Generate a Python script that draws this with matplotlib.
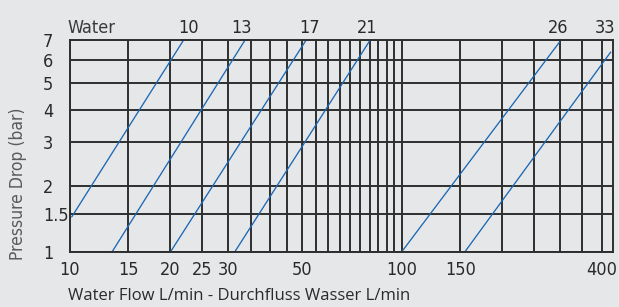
import matplotlib
matplotlib.use("Agg")
import matplotlib.pyplot as plt
import matplotlib.transforms as mtransforms
from matplotlib.ticker import NullLocator, FixedLocator, FixedFormatter

# values: each curve is a straight run
# from its lowest to its highest point
line_names = ["10", "13", "17", "21", "26", "33"]
flow_start = [10.1, 13.4, 20.1, 31.4, 100, 155]
flow_end = [22.0, 33.7, 51.5, 80.3, 299, 427]
press_start = [1.45, 1, 1, 1, 1, 1]
press_end = [7, 7, 7, 7, 6.9, 6.4]
label_flow = [22.7, 32.9, 52.9, 78.5, 295, 411]

x_grid = [10, 15, 20, 25, 30, 35, 40, 45, 50, 55, 60, 65, 70, 75, 80, 85, 90, 95,
          100, 150, 200, 250, 300, 350, 400]
x_labeled = [10, 15, 20, 25, 30, 50, 100, 150, 400]
y_grid = [1, 1.5, 2, 3, 4, 5, 6, 7]
y_labels = ["1", "1.5", "2", "3", "4", "5", "6", "7"]

bg = "#e6e7e9"
blue = "#1c68b4"
gridc = "#2e2e2e"
narrow = dict(family="DejaVu Sans", stretch="condensed")

fig = plt.figure(figsize=(6.19, 3.07), dpi=100, facecolor=bg)
ax = fig.add_axes([70 / 619, 1 - 251.7 / 307, 543 / 619, 211.7 / 307])
ax.set_facecolor(bg)

ax.set_xscale("log")
ax.set_yscale("function", functions=(lambda v: v ** 0.2, lambda v: v ** 5))
ax.set_xlim(10, 433)
ax.set_ylim(1, 7)

ax.xaxis.set_major_locator(FixedLocator(x_grid))
ax.xaxis.set_major_formatter(FixedFormatter([str(v) if v in x_labeled else "" for v in x_grid]))
ax.xaxis.set_minor_locator(NullLocator())
ax.yaxis.set_major_locator(FixedLocator(y_grid))
ax.yaxis.set_major_formatter(FixedFormatter(y_labels))
ax.yaxis.set_minor_locator(NullLocator())

ax.grid(True, color=gridc, linewidth=1.4)
ax.set_axisbelow(True)
for s in ax.spines.values():
    s.set_color(gridc)
    s.set_linewidth(1.4)

ax.tick_params(axis="x", length=0, pad=7, labelsize=13, labelcolor="#2a2a2a")
ax.tick_params(axis="y", length=0, pad=19.5, labelsize=13, labelcolor="#2a2a2a")
for lab in ax.get_xticklabels() + ax.get_yticklabels():
    lab.set_family(narrow["family"])
    lab.set_stretch(narrow["stretch"])
for lab in ax.get_yticklabels():
    lab.set_horizontalalignment("left")

trans = mtransforms.blended_transform_factory(ax.transData, ax.transAxes)
for i, name in enumerate(line_names):
    ax.plot([flow_start[i], flow_end[i]], [press_start[i], press_end[i]],
            color=blue, linewidth=0.95, solid_capstyle="butt")
    ax.text(label_flow[i], 1.033, name, transform=trans, ha="center", va="baseline",
            fontsize=13, color="#2a2a2a", **narrow)

ax.text(-0.0055, 1.033, "Water", transform=ax.transAxes, ha="left", va="baseline",
        fontsize=13, color="#3a3a3a", **narrow)

fig.text(18 / 619, 1 - 183.5 / 307, "Pressure Drop (bar)", rotation=90,
         ha="center", va="center", fontsize=12.5, color="#5a5a5a", **narrow)
fig.text(68 / 619, 1 - 296 / 307, "Water Flow L/min - Durchfluss Wasser L/min",
         ha="left", va="center", fontsize=12, color="#2a2a2a", family=["Open Sans", "DejaVu Sans"])

fig.savefig("out.png", dpi=100, facecolor=bg)
